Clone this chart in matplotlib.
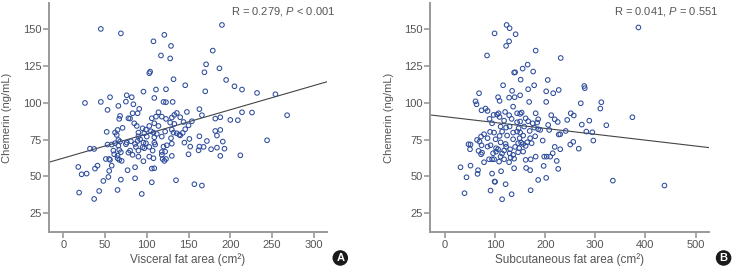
import numpy as np
import matplotlib.pyplot as plt

# panel A: visceral fat area (cm2) vs chemerin (ng/mL)
vfa_x = [45, 69, 190, 121, 108, 129, 179, 117, 128, 171, 187, 169, 104, 103, 132, 195,
         146, 205, 111, 123, 96, 170, 214, 232, 254, 76, 82, 56, 109, 26, 45, 75,
         120, 123, 131, 84, 66, 53, 91, 163, 89, 83, 114, 136, 148, 214, 226, 68,
         166, 268, 67, 78, 80, 106, 111, 118, 123, 130, 133, 140, 182, 188, 200, 209,
         71, 85, 88, 103, 109, 114, 128, 133, 144, 154, 150, 95, 99, 65, 52, 62,
         64, 90, 97, 105, 108, 112, 122, 130, 132, 136, 139, 143, 146, 182, 188, 140,
         184, 90, 100, 109, 118, 151, 163, 244, 66, 68, 76, 81, 89, 92, 96, 99,
         109, 110, 129, 145, 172, 191, 32, 37, 53, 58, 62, 66, 75, 86, 87, 95,
         97, 103, 120, 124, 130, 152, 163, 168, 177, 184, 193, 60, 67, 69, 80, 90,
         107, 118, 122, 162, 61, 65, 78, 83, 90, 103, 118, 130, 150, 188, 212, 51,
         55, 56, 65, 67, 70, 96, 108, 119, 121, 123, 58, 86, 41, 38, 18, 106,
         109, 22, 28, 55, 77, 54, 86, 48, 69, 135, 106, 157, 166, 19, 43, 65,
         94, 37]
vfa_chem = [150, 147, 152.7, 146, 141.6, 138.5, 135.3, 132, 130, 126, 123.3, 120.6, 121, 120, 115.9, 115.4,
            111.8, 111.1, 108.9, 109.1, 107.5, 107.7, 108.9, 106.6, 105.7, 105, 103.7, 103.7, 103.2, 99.8, 100.5, 100.7,
            100.5, 100.3, 100.5, 98.9, 97.8, 95.1, 95.8, 95.6, 92.8, 92.8, 93.5, 93, 93.7, 93.5, 93.3, 91,
            91.5, 91.5, 89, 89.4, 89.2, 89.4, 90.5, 90.5, 89, 89.9, 91.7, 90.1, 89.2, 90.1, 88.3, 88.1,
            82.9, 86, 84.2, 84.2, 86, 84.2, 86.5, 85.6, 86.9, 87.4, 84.6, 82.6, 81.7, 81.5, 80.2, 79.7,
            78.1, 79.7, 79.2, 80.6, 79.7, 78.8, 80.4, 81.7, 79.7, 79.2, 78.3, 79.5, 82, 80.8, 81.5, 77.8,
            77.7, 77.2, 77, 76.5, 77, 75.4, 77.2, 74.5, 74.7, 73.6, 72.9, 73.8, 74, 75.2, 72.9, 72.5,
            72.9, 71.6, 75.9, 72.9, 74, 73.6, 68.8, 68.6, 71.6, 71.6, 72.5, 70.9, 71.8, 72, 70, 69.8,
            69.1, 70, 70.2, 71.1, 72.2, 70.2, 70.2, 70, 68.4, 69.5, 68.8, 67.5, 68, 66.4, 67.5, 67.5,
            67.5, 66.6, 66.8, 67.7, 65, 64.1, 66.1, 64.6, 63.4, 63.4, 64.6, 63.9, 65, 63.9, 64.3, 61.8,
            61.8, 61.2, 62.3, 61.2, 60.5, 60.3, 62.3, 61.8, 60.5, 61.8, 57.3, 56.2, 57.3, 55.3, 56.4, 55.3,
            55.5, 51.4, 51.9, 53.7, 54.2, 49.6, 48.7, 46.9, 47.8, 47.4, 46, 44.7, 43.8, 39, 40.1, 40.8,
            38.1, 34.7]

# panel B: subcutaneous fat area (cm2) vs chemerin (ng/mL)
sfa_x = [123, 129, 99, 141, 128, 122, 386, 84, 181, 231, 165, 155, 176, 138, 140, 205,
         151, 116, 178, 278, 279, 68, 134, 166, 202, 216, 227, 106, 128, 139, 150, 61,
         63, 109, 168, 202, 312, 271, 310, 81, 73, 85, 136, 97, 104, 107, 120, 128,
         144, 150, 153, 181, 212, 251, 257, 374, 89, 109, 133, 161, 166, 186, 219, 244,
         288, 94, 118, 144, 150, 175, 184, 206, 225, 273, 322, 111, 122, 129, 147, 158,
         178, 186, 190, 208, 241, 282, 294, 90, 98, 114, 136, 144, 150, 169, 227, 230,
         78, 72, 109, 124, 156, 180, 64, 69, 85, 101, 136, 149, 170, 195, 296, 51,
         47, 73, 91, 111, 121, 146, 152, 156, 164, 173, 250, 256, 67, 85, 50, 102,
         106, 122, 130, 140, 148, 161, 219, 267, 230, 72, 74, 96, 102, 114, 118, 129,
         136, 146, 156, 88, 94, 98, 111, 118, 131, 138, 161, 171, 181, 198, 203, 210,
         215, 108, 128, 78, 223, 31, 51, 66, 65, 112, 138, 162, 170, 197, 226, 94,
         43, 202, 186, 99, 100, 121, 335, 438, 91, 39, 171, 133, 114]
sfa_chem = [152.7, 150.5, 147, 146.4, 141.6, 138.5, 151, 132, 135.3, 130.3, 125.8, 123.1, 121.1, 120.4, 120.6, 115.4,
            115.6, 111.8, 111.8, 111.3, 109.8, 106.4, 108, 109.1, 107.7, 106.4, 108.6, 103.7, 103.4, 103.7, 105, 100.9,
            98.9, 101.2, 100.5, 100.5, 100.3, 99.6, 96, 96, 94.8, 94.4, 97.3, 91.7, 91.9, 92.8, 93.7, 91.5,
            92.8, 92.4, 93.3, 92.8, 91.5, 92.8, 91.3, 90.1, 89, 90.3, 89, 89.4, 87.4, 88.7, 88.7, 88.3,
            87.8, 86, 87.8, 86.7, 87.2, 86, 86.5, 84.9, 86.9, 85.1, 84.7, 83.8, 83.1, 83.8, 82.6, 83.8,
            83.1, 82, 81.5, 81.5, 80.8, 80.4, 79.9, 80.2, 79.7, 80.4, 79.7, 80.4, 79.7, 80.8, 78.4, 78.6,
            78.6, 77, 77.4, 77.7, 77.7, 77.2, 74.7, 73.6, 75.9, 75.2, 75.2, 75.9, 75.9, 74.3, 74.3, 71.6,
            71.8, 71.1, 71.1, 73.1, 72, 72.5, 72.9, 72, 73.1, 72.5, 71.6, 73.4, 67.3, 70.2, 68.4, 69.1,
            68.4, 70.2, 68.4, 70, 69.1, 70.7, 70, 68.8, 68.4, 65, 66.1, 65.7, 66.8, 65.5, 67.5, 65.7,
            64.6, 66.4, 66.8, 61.6, 61.6, 61.6, 63.4, 61.6, 62.7, 62, 61.2, 61.6, 63.4, 63.4, 63.4, 63.4,
            65.7, 60, 59.6, 59.6, 60.5, 56.2, 57.3, 54.2, 51.7, 53.5, 55.5, 55.7, 54.2, 57.1, 55.1, 51.9,
            49.4, 49, 47.6, 46.5, 46.3, 44.7, 47.1, 43.8, 40.4, 38.6, 40.6, 37.9, 34.5]

# regression lines (intercept, slope)
fit_a = (62.4, 0.164)
fit_b = (90.5, -0.0398)

panels = [
    dict(x=vfa_x, y=vfa_chem, fit=fit_a, xlim=(-17, 316), xticks=np.arange(0, 301, 50),
         xlabel='Visceral fat area (cm²)', stat=('R = 0.279, ', 'P', ' < 0.001'), tag='A',
         rect=[0.067, 0.144, 0.380, 0.845], statx=1.029, tagx=1.047),
    dict(x=sfa_x, y=sfa_chem, fit=fit_b, xlim=(-29, 526), xticks=np.arange(0, 501, 100),
         xlabel='Subcutaneous fat area (cm²)', stat=('R = 0.041, ', 'P', ' = 0.551'), tag='B',
         rect=[0.588, 0.144, 0.380, 0.845], statx=1.034, tagx=1.054),
]

plt.rcParams['font.family'] = ['Liberation Sans', 'DejaVu Sans']
plt.rcParams['mathtext.fontset'] = 'custom'
plt.rcParams['mathtext.rm'] = 'Liberation Sans'
plt.rcParams['mathtext.it'] = 'Liberation Sans:italic'
grey = '#555555'
spine = '#999999'

fig = plt.figure(figsize=(7.32, 2.71), dpi=100)
for p in panels:
    ax = fig.add_axes(p['rect'])
    ax.scatter(p['x'], p['y'], s=11, facecolors='none', edgecolors='#2d4c9c', linewidths=0.75, zorder=3)
    xx = np.array(p['xlim'])
    ax.plot(xx, p['fit'][0] + p['fit'][1] * xx, color='#444444', lw=0.8, zorder=2)
    ax.set_xlim(*p['xlim'])
    ax.set_ylim(12.3, 167.6)
    ax.set_xticks(p['xticks'])
    ax.set_yticks([25, 50, 75, 100, 125, 150])
    for s in ['top', 'right']:
        ax.spines[s].set_visible(False)
    for s in ['left', 'bottom']:
        ax.spines[s].set_color(spine)
        ax.spines[s].set_linewidth(1.4)
    ax.tick_params(colors=spine, labelcolor=grey, labelsize=8, length=4, width=1.2)
    ax.tick_params(axis='x', pad=2)
    ax.tick_params(axis='y', pad=1.5)
    ax.set_xlabel(p['xlabel'], fontsize=8.5, color=grey, va='center')
    ax.xaxis.set_label_coords(0.5, -0.122)
    ax.set_ylabel('Chemerin (ng/mL)', fontsize=8, color=grey, va='center')
    ax.yaxis.set_label_coords(-0.15, 0.5)
    a, b, c = p['stat']
    ax.text(p['statx'], 0.962, a + '$\\it{' + b + '}$' + c, transform=ax.transAxes, ha='right', va='center',
            fontsize=8, color=grey)
    ax.text(p['tagx'], -0.1135, p['tag'], transform=ax.transAxes, ha='center', va='center', fontsize=8,
            fontweight='bold', color='white',
            bbox=dict(boxstyle='circle,pad=0.25', fc='#1a1a1a', ec='none'))

fig.savefig('out.png', dpi=100)
